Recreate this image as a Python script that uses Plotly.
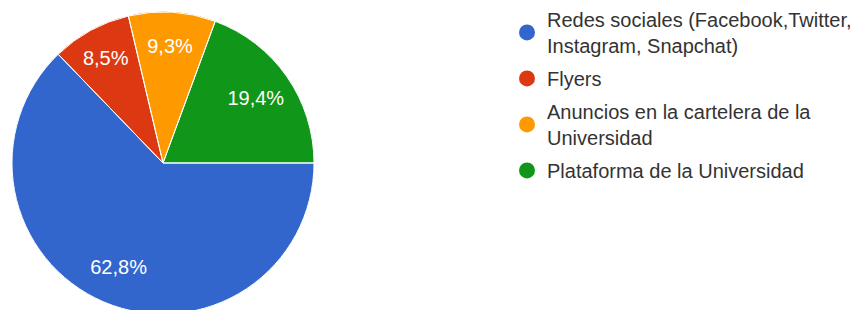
import plotly.graph_objects as go

labels = ["Redes sociales (Facebook,Twitter,<br>Instagram, Snapchat)",
          "Flyers",
          "Anuncios en la cartelera de la<br>Universidad",
          "Plataforma de la Universidad"]
counts = [81, 11, 12, 25]
colors = ["#3366cc", "#dc3912", "#ff9900", "#109618"]

W, H = 864, 310
FONT = "Liberation Sans, Arial"
dom = dict(x=[4 / W, 306 / W], y=[4 / H, 306 / H])
common = dict(labels=labels, values=counts, sort=False, direction="clockwise",
              rotation=90, showlegend=False, domain=dom)

fig = go.Figure()
# solid base pie
fig.add_trace(go.Pie(**common, marker=dict(colors=colors, line=dict(width=0)),
                     textinfo="none", hoverinfo="skip"))
# ring carrying the percentage labels (places them at ~3/4 radius)
fig.add_trace(go.Pie(**common, hole=0.5,
                     marker=dict(colors=colors, line=dict(width=0)),
                     texttemplate="%{percent:.1%}", textposition="inside",
                     insidetextorientation="horizontal",
                     textfont=dict(family=FONT, size=20, color="white"),
                     hoverinfo="skip"))
# white slice separators on top
fig.add_trace(go.Pie(**common,
                     marker=dict(colors=["rgba(0,0,0,0)"] * len(counts),
                                 line=dict(color="white", width=1)),
                     textinfo="none", hoverinfo="label+percent"))

for i, (lab, col) in enumerate(zip(labels, colors)):
    fig.add_trace(go.Scatter(x=[None], y=[None], mode="markers", name=lab,
                             legendgroup=f"g{i}",
                             marker=dict(symbol="circle", size=20, color=col)))
fig.update_layout(
    width=W, height=H, margin=dict(l=0, r=0, t=0, b=0, autoexpand=False),
    paper_bgcolor="white", plot_bgcolor="white",
    separators=",.",
    xaxis=dict(visible=False), yaxis=dict(visible=False),
    legend=dict(x=499 / W, y=1.026, xanchor="left", yanchor="top",
                font=dict(family=FONT, size=20, color="#333333"),
                tracegroupgap=4, itemsizing="trace", maxheight=500),
)
fig.write_html("out.html")
